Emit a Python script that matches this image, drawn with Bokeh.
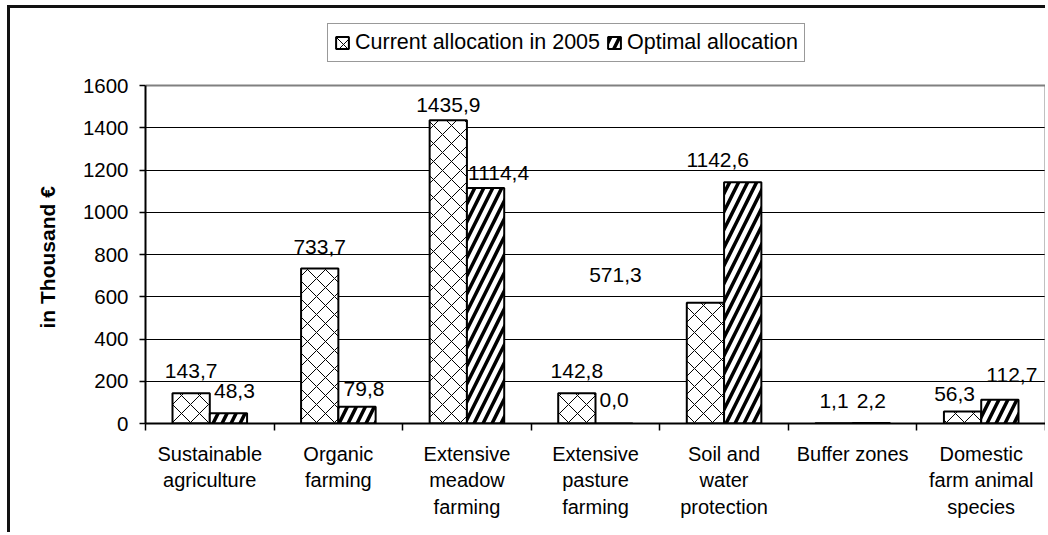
import numpy as np
from bokeh.plotting import figure
from bokeh.models import (Range1d, FixedTicker, Legend, LegendItem,
                          ColumnDataSource, Title)
from bokeh.core.properties import value
from bokeh.embed import file_html
from bokeh.resources import INLINE

# ---------------- data ----------------
categories = ["Sustainable\nagriculture", "Organic\nfarming",
              "Extensive\nmeadow\nfarming", "Extensive\npasture\nfarming",
              "Soil and\nwater\nprotection", "Buffer zones",
              "Domestic\nfarm animal\nspecies"]
current_2005 = [143.7, 733.7, 1435.9, 142.8, 571.3, 1.1, 56.3]
optimal = [48.3, 79.8, 1114.4, 0.0, 1142.6, 2.2, 112.7]
series_names = ["Current allocation in 2005", "Optimal allocation"]
y_ticks = [0, 200, 400, 600, 800, 1000, 1200, 1400, 1600]
y_axis_title = "in Thousand €"

# label nudges (screen px) - style only
cur_dx = [0, 0, 0, 0, -90, 0, -8]
cur_dy = [0, 0, 7, 0, -6, 0, 4]
opt_dx = [6, 7, 13, 0, -25, 0, 12]
opt_dy = [0, 4, 7, -2, 0, 0, -3]

FONT = "Liberation Sans"
n = len(categories)
centers = np.arange(n) + 0.5
bar_w = 0.29

# layout (px)
W, H = 1038, 527
B_LEFT, B_RIGHT, B_TOP, B_BOTTOM = 135, 3, 12, 112
PLOT_H = 338                      # pixel height of 0..1600
frame_h = H - B_TOP - B_BOTTOM
y_max = y_ticks[-1] * frame_h / PLOT_H

p = figure(width=W, height=H,
           x_range=Range1d(0, n), y_range=Range1d(0, y_max),
           output_backend="svg", toolbar_location=None,
           min_border_left=B_LEFT, min_border_right=B_RIGHT,
           min_border_top=B_TOP, min_border_bottom=B_BOTTOM,
           margin=(5, 0, 0, 7),
           styles={"border-top": "3px solid #111",
                   "border-left": "3px solid #111"})
p.outline_line_color = None
p.background_fill_color = "white"
p.border_fill_color = "white"

# plot-area border (gray, top & right)
p.line(x=[0, n, n], y=[y_ticks[-1], y_ticks[-1], 0],
       line_color="#808080", line_width=2)

src_cur = ColumnDataSource(dict(x=centers - bar_w / 2, top=current_2005))
src_opt = ColumnDataSource(dict(x=centers + bar_w / 2, top=optimal))

r_cur = p.vbar(x="x", top="top", width=bar_w, source=src_cur,
               fill_color="white", line_color="black", line_width=2,
               hatch_pattern="diagonal_cross", hatch_color="black",
               hatch_scale=18, hatch_weight=1)
r_opt = p.vbar(x="x", top="top", width=bar_w, source=src_opt,
               fill_color="white", line_color="black", line_width=2,
               hatch_pattern="right_diagonal_line", hatch_color="black",
               hatch_scale=18, hatch_weight=3.5)

def fmt(v):
    return f"{v:.1f}".replace(".", ",")

BASE_DY = -15
lab_cur = ColumnDataSource(dict(x=centers - bar_w / 2, y=current_2005,
                                text=[fmt(v) for v in current_2005],
                                dx=cur_dx, dy=[BASE_DY + d for d in cur_dy]))
lab_opt = ColumnDataSource(dict(x=centers + bar_w / 2, y=optimal,
                                text=[fmt(v) for v in optimal],
                                dx=opt_dx, dy=[BASE_DY + d for d in opt_dy]))
for s in (lab_cur, lab_opt):
    p.text(x="x", y="y", text="text", source=s, x_offset="dx", y_offset="dy",
           text_align="center", text_baseline="bottom",
           text_font=value(FONT), text_font_size="21px", text_color="black")

# grid
p.xgrid.visible = False
p.ygrid.ticker = FixedTicker(ticks=y_ticks[1:-1])
p.ygrid.grid_line_color = "black"
p.ygrid.grid_line_width = 1

# y axis
ya = p.yaxis[0]
ya.ticker = FixedTicker(ticks=y_ticks)
ya.bounds = (y_ticks[0], y_ticks[-1])
ya.axis_line_color = "black"
ya.axis_line_width = 2
ya.major_tick_out = 6
ya.major_tick_in = 0
ya.minor_tick_out = 0
ya.minor_tick_in = 0
ya.major_tick_line_color = "black"
ya.major_tick_line_width = 1.5
ya.major_label_standoff = 11
ya.major_label_text_font = FONT
ya.major_label_text_font_size = "20.5px"
ya.major_label_text_color = "black"

ytitle = Title(text=y_axis_title, align="left", offset=95, standoff=42,
               text_font=FONT, text_font_size="21px",
               text_font_style="bold", text_color="black")
p.add_layout(ytitle, "left")

# x axis: labels at centers, ticks at boundaries (minor)
xa = p.xaxis[0]
xa.ticker = FixedTicker(ticks=list(centers), minor_ticks=list(range(n + 1)))
xa.major_label_overrides = {float(c): lab for c, lab in zip(centers, categories)}
xa.axis_line_color = "black"
xa.axis_line_width = 2
xa.major_tick_out = 0
xa.major_tick_in = 0
xa.minor_tick_out = 7
xa.minor_tick_in = 0
xa.minor_tick_line_color = "black"
xa.minor_tick_line_width = 1.5
xa.major_label_standoff = 12
xa.major_label_text_font = FONT
xa.major_label_text_font_size = "20px"
xa.major_label_text_color = "black"
xa.major_label_text_line_height = 1.22

legend = Legend(items=[LegendItem(label=series_names[0], renderers=[r_cur]),
                       LegendItem(label=series_names[1], renderers=[r_opt])],
                location=(182, 361), orientation="horizontal",
                border_line_color="#333333", border_line_width=1.5,
                background_fill_color="white", background_fill_alpha=1,
                padding=6, spacing=6, margin=0,
                glyph_width=16, glyph_height=15, label_standoff=5,
                label_height=22,
                label_text_font=FONT, label_text_font_size="21.5px",
                label_text_color="black")
p.add_layout(legend)

open("out.html", "w").write(file_html(p, INLINE))
